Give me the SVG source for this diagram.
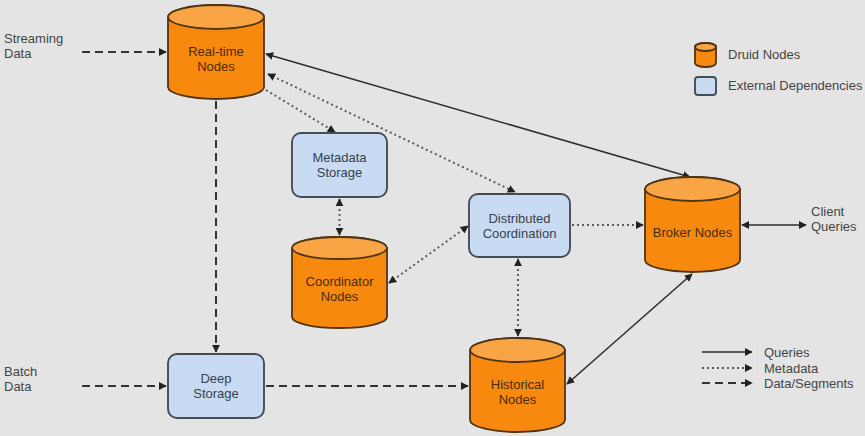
<svg xmlns="http://www.w3.org/2000/svg" width="865" height="436" viewBox="0 0 865 436">
<defs>
<style>
.bg{fill:#e4e4e4}
.cyl{fill:#f7890f;stroke:#4f3512;stroke-width:1.8}
.cyltop{fill:#f9a445;stroke:#4f3512;stroke-width:1.8}
.box{fill:#c8dbf2;stroke:#434d58;stroke-width:1.9}
.t{font-family:"Liberation Sans",Arial,sans-serif;font-size:13px;text-anchor:middle}
.tn{fill:#4a2c08}
.tb{fill:#38414d}
.lab{font-family:"Liberation Sans",Arial,sans-serif;font-size:13px;fill:#444}
.solid{fill:none;stroke:#2e2e2e;stroke-width:1.6}
.dot{fill:none;stroke:#5a5a5a;stroke-width:2;stroke-dasharray:2 3}
.dash{fill:none;stroke:#333;stroke-width:2;stroke-dasharray:8 5}
</style>
<marker id="ah" viewBox="0 0 10 10" refX="9" refY="5" markerWidth="8" markerHeight="8" markerUnits="userSpaceOnUse" orient="auto-start-reverse">
<path d="M0,0 L10,5 L0,10 z" fill="#222"/>
</marker>
</defs>
<rect class="bg" x="0" y="0" width="865" height="436"/>

<g id="connectors">
<line class="dash" x1="82" y1="52" x2="166" y2="52" marker-end="url(#ah)"/>
<line class="dash" x1="82" y1="386" x2="166" y2="386" marker-end="url(#ah)"/>
<line class="dash" x1="216" y1="101" x2="216" y2="352" marker-end="url(#ah)"/>
<line class="dash" x1="266" y1="386" x2="468" y2="386" marker-end="url(#ah)"/>
<line class="solid" x1="266" y1="54" x2="690" y2="177" marker-start="url(#ah)" marker-end="url(#ah)"/>
<line class="solid" x1="692" y1="274" x2="567" y2="384" marker-start="url(#ah)" marker-end="url(#ah)"/>
<line class="solid" x1="742" y1="225" x2="806" y2="225" marker-start="url(#ah)" marker-end="url(#ah)"/>
<line class="dot" x1="268" y1="74" x2="515" y2="192" marker-start="url(#ah)" marker-end="url(#ah)"/>
<line class="dot" x1="266" y1="90" x2="335" y2="132" marker-end="url(#ah)"/>
<line class="dot" x1="339.5" y1="199" x2="339.5" y2="235" marker-start="url(#ah)" marker-end="url(#ah)"/>
<line class="dot" x1="389" y1="283" x2="468" y2="226" marker-start="url(#ah)" marker-end="url(#ah)"/>
<line class="dot" x1="572" y1="225" x2="643" y2="225" marker-end="url(#ah)"/>
<line class="dot" x1="518" y1="259" x2="518" y2="336" marker-start="url(#ah)" marker-end="url(#ah)"/>
</g>

<g id="realtime">
<path class="cyl" d="M168,17 A48,12 0 0 1 264,17 V87 A48,12 0 0 1 168,87 Z"/>
<ellipse class="cyltop" cx="216" cy="17" rx="48" ry="12"/>
<text class="t tn" x="216" y="56">Real-time</text>
<text class="t tn" x="216" y="71">Nodes</text>
</g>

<g id="metadata">
<rect class="box" x="292" y="133" width="95" height="64" rx="9"/>
<text class="t tb" x="339.5" y="162">Metadata</text>
<text class="t tb" x="339.5" y="177">Storage</text>
</g>

<g id="coordinator">
<path class="cyl" d="M292,248 A47.5,11 0 0 1 387,248 V317 A47.5,11 0 0 1 292,317 Z"/>
<ellipse class="cyltop" cx="339.5" cy="248" rx="47.5" ry="11"/>
<text class="t tn" x="339.5" y="286">Coordinator</text>
<text class="t tn" x="339.5" y="301">Nodes</text>
</g>

<g id="distributed">
<rect class="box" x="469" y="194" width="101" height="63" rx="9"/>
<text class="t tb" x="519.5" y="223">Distributed</text>
<text class="t tb" x="519.5" y="238">Coordination</text>
</g>

<g id="broker">
<path class="cyl" d="M645,189 A47.5,12 0 0 1 740,189 V260 A47.5,12 0 0 1 645,260 Z"/>
<ellipse class="cyltop" cx="692.5" cy="189" rx="47.5" ry="12"/>
<text class="t tn" x="692.5" y="237">Broker Nodes</text>
</g>

<g id="historical">
<path class="cyl" d="M470,350 A47.5,12 0 0 1 565,350 V420 A47.5,12 0 0 1 470,420 Z"/>
<ellipse class="cyltop" cx="517.5" cy="350" rx="47.5" ry="12"/>
<text class="t tn" x="517.5" y="389">Historical</text>
<text class="t tn" x="517.5" y="404">Nodes</text>
</g>

<g id="deepstorage">
<rect class="box" x="168" y="354" width="96" height="64" rx="9"/>
<text class="t tb" x="216" y="383">Deep</text>
<text class="t tb" x="216" y="398">Storage</text>
</g>

<g id="labels">
<text class="lab" x="4" y="43">Streaming</text>
<text class="lab" x="4" y="58">Data</text>
<text class="lab" x="4" y="376">Batch</text>
<text class="lab" x="4" y="391">Data</text>
<text class="lab" x="811" y="216">Client</text>
<text class="lab" x="811" y="231">Queries</text>
</g>

<g id="legend">
<path class="cyl" d="M695,47 A10.5,4 0 0 1 716,47 V63 A10.5,4 0 0 1 695,63 Z"/>
<ellipse class="cyltop" cx="705.5" cy="47" rx="10.5" ry="4"/>
<text class="lab" x="728" y="59">Druid Nodes</text>
<rect class="box" x="695" y="77" width="21" height="18" rx="3"/>
<text class="lab" x="728" y="90">External Dependencies</text>
<line class="solid" x1="702" y1="352" x2="752" y2="352" marker-end="url(#ah)"/>
<line class="dot" x1="702" y1="368" x2="752" y2="368" marker-end="url(#ah)"/>
<line class="dash" x1="702" y1="383" x2="752" y2="383" marker-end="url(#ah)"/>
<text class="lab" x="764" y="357">Queries</text>
<text class="lab" x="764" y="373">Metadata</text>
<text class="lab" x="764" y="388">Data/Segments</text>
</g>
</svg>
